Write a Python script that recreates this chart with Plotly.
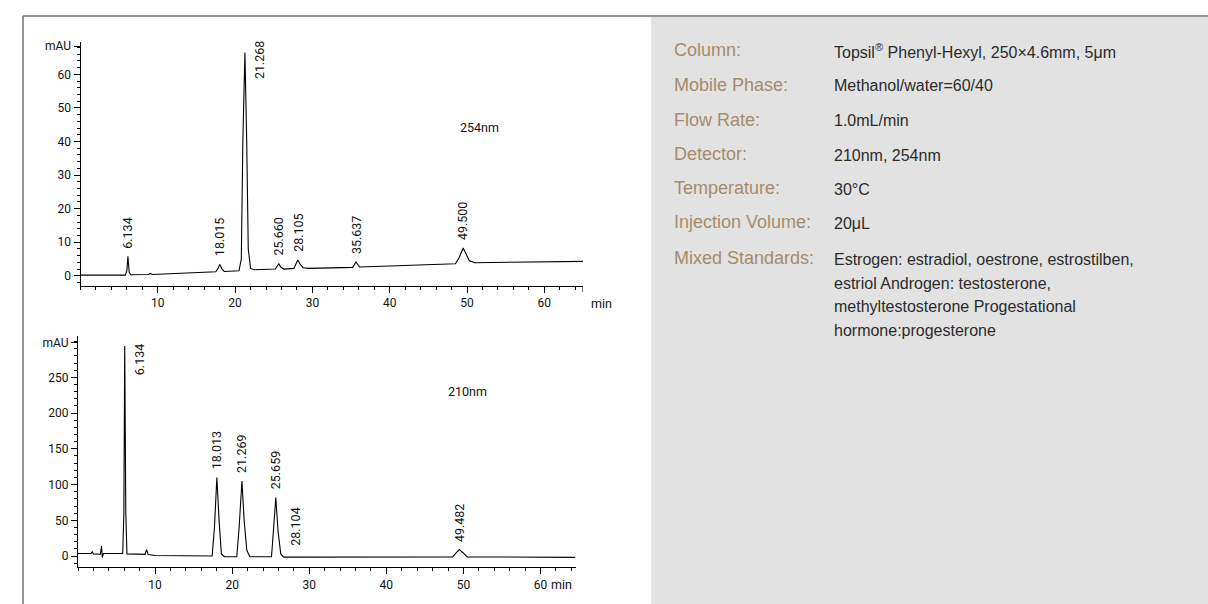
import plotly.graph_objects as go

W, H = 1208, 604

# ---------------- data ----------------
# 254 nm chromatogram: time (min) vs signal (mAU)
TIME_254 = [0, 5.8, 6.0, 6.134, 6.3, 6.5, 8.8, 9.0, 9.3, 17.5, 17.8, 18.015, 18.3, 18.6,
            20.5, 20.8, 21.0, 21.268, 21.5, 21.7, 22.0, 22.5, 25.2, 25.45, 25.66, 25.9, 26.3,
            27.6, 27.9, 28.105, 28.4, 28.8, 29.5, 35.2, 35.637, 36.1, 48.5, 49.0, 49.5,
            49.9, 50.3, 51.0, 65]
SIGNAL_254 = [0.2, 0.2, 1.5, 5.8, 1.0, 0.3, 0.4, 0.7, 0.4, 1.2, 2.2, 3.4, 2.0, 1.3,
              1.5, 5.0, 40.0, 66.5, 40.0, 8.0, 2.2, 1.8, 2.0, 3.0, 3.6, 2.6, 2.0,
              2.2, 3.8, 4.7, 3.5, 2.4, 2.2, 2.5, 4.1, 2.6, 3.6, 5.5, 8.3,
              6.5, 4.5, 3.9, 4.3]
PEAKS_254 = ["6.134", "18.015", "21.268", "25.660", "28.105", "35.637", "49.500"]

# 210 nm chromatogram
TIME_210 = [0, 1.7, 1.85, 2.0, 2.9, 3.05, 3.15, 3.3, 5.8, 5.95, 6.06, 6.2, 6.35,
            8.7, 8.9, 9.1, 10.0, 17.4, 17.7, 18.013, 18.3, 18.6, 19.0, 20.6, 20.9,
            21.269, 21.55, 21.9, 22.3, 25.1, 25.35, 25.659, 25.95, 26.3, 26.7, 28.104,
            30.0, 48.6, 49.1, 49.482, 49.9, 50.5, 64.5]
SIGNAL_210 = [3.5, 3.5, 6.0, 3.0, 2.5, 14.0, -2.0, 3.5, 3.5, 60.0, 294.0, 60.0, 3.0,
              2.4, 9.0, 2.0, 0.8, 0.0, 40.0, 110.0, 50.0, 3.0, -1.0, -1.0, 40.0,
              105.0, 50.0, 8.0, -1.0, -1.0, 35.0, 82.0, 35.0, 3.0, -1.5, -1.5,
              -1.2, -1.2, 5.0, 9.0, 5.0, -1.2, -1.8]
PEAKS_210 = ["6.134", "18.013", "21.269", "25.659", "28.104", "49.482"]

Y_TICKS_254 = [0, 10, 20, 30, 40, 50, 60]
Y_TICKS_210 = [0, 50, 100, 150, 200, 250]
X_TICKS = [10, 20, 30, 40, 50, 60]

INFO_LABELS = ["Column:", "Mobile Phase:", "Flow Rate:", "Detector:", "Temperature:",
               "Injection Volume:", "Mixed Standards:"]
INFO_VALUES = ["Topsil<sup>®</sup> Phenyl-Hexyl, 250×4.6mm, 5μm",
               "Methanol/water=60/40", "1.0mL/min", "210nm, 254nm", "30°C", "20μL",
               "Estrogen: estradiol, oestrone, estrostilben,"]
MIXED_EXTRA_LINES = ["estriol Androgen: testosterone,",
                     "methyltestosterone Progestational",
                     "hormone:progesterone"]

# ---------------- helpers ----------------
def px(x):
    return x / W


def py(y):
    return 1 - y / H


CHART_FONT = "Roboto, 'DejaVu Sans', sans-serif"
INFO_FONT = "'Liberation Sans', Arial, sans-serif"
LABEL_COLOR = "#a58b6c"
VALUE_COLOR = "#2b2b2b"

fig = go.Figure()
fig.add_trace(go.Scatter(x=TIME_254, y=SIGNAL_254, mode="lines",
                         line=dict(color="black", width=1.1), xaxis="x", yaxis="y",
                         hoverinfo="skip", showlegend=False))
fig.add_trace(go.Scatter(x=TIME_210, y=SIGNAL_210, mode="lines",
                         line=dict(color="black", width=1.1), xaxis="x2", yaxis="y2",
                         hoverinfo="skip", showlegend=False))

tickfont = dict(family=CHART_FONT, size=12, color="#111")

common_axis = dict(showline=True, linecolor="black", linewidth=1, showgrid=False,
                   zeroline=False, ticks="outside", tickcolor="black", ticklen=6,
                   tickwidth=1, tickfont=tickfont, fixedrange=True)

top_y_max = 69.7
bot_y_max = 308
fig.update_layout(
    width=W, height=H, margin=dict(l=0, r=0, t=0, b=0),
    paper_bgcolor="white", plot_bgcolor="white",
    xaxis=dict(domain=[px(80.5), px(583)], range=[0, 65], anchor="y",
               tickmode="array", tickvals=X_TICKS,
               ticktext=[str(v) for v in X_TICKS],
               minor=dict(ticks="outside", ticklen=3, tickcolor="black", dtick=2, tick0=0),
               **common_axis),
    yaxis=dict(domain=[py(285), py(40)], range=[-3.06, top_y_max], anchor="x",
               tickmode="array", tickvals=Y_TICKS_254 + [68.4],
               ticktext=[str(v) for v in Y_TICKS_254] + ["mAU"],
               minor=dict(ticks="outside", ticklen=3, tickcolor="black", dtick=2, tick0=0),
               **common_axis),
    xaxis2=dict(domain=[px(78), px(576)], range=[0, 64.6], anchor="y2",
                tickmode="array", tickvals=X_TICKS,
                ticktext=[str(v) for v in X_TICKS],
                minor=dict(ticks="outside", ticklen=3, tickcolor="black", dtick=2, tick0=0),
                **common_axis),
    yaxis2=dict(domain=[py(567), py(335)], range=[-15.5, bot_y_max], anchor="x2",
                tickmode="array", tickvals=Y_TICKS_210 + [299],
                ticktext=[str(v) for v in Y_TICKS_210] + ["mAU"],
                minor=dict(ticks="outside", ticklen=3, tickcolor="black", dtick=10, tick0=0),
                **common_axis),
)

# frame and info panel
fig.add_shape(type="rect", xref="paper", yref="paper", x0=px(651), x1=1, y0=0, y1=py(15),
              fillcolor="#e2e2e2", line=dict(width=0), layer="below")
fig.add_shape(type="line", xref="paper", yref="paper", x0=px(23), x1=1, y0=py(14), y1=py(14),
              line=dict(color="#707070", width=1.5))
fig.add_shape(type="line", xref="paper", yref="paper", x0=px(23), x1=px(23), y0=0, y1=py(14),
              line=dict(color="#707070", width=1.5))
# long end tick on the upper time axis
fig.add_shape(type="line", xref="x", yref="paper", x0=65, x1=65, y0=py(285), y1=py(291),
              line=dict(color="black", width=1))


def apex(times, signal, label):
    rt = float(label)
    idx = [k for k in range(len(times)) if abs(times[k] - rt) <= 0.3]
    i = max(idx, key=lambda k: signal[k])
    return rt, signal[i]


labfont = dict(family=CHART_FONT, size=12.5, color="#111")

# peak labels 254 nm
for lab in PEAKS_254:
    t, s = apex(TIME_254, SIGNAL_254, lab)
    if lab == "21.268":
        fig.add_annotation(x=t, y=s, xref="x", yref="y", text=lab, textangle=-90,
                           showarrow=False, xanchor="left", yanchor="top", xshift=5,
                           yshift=14, font=labfont)
    else:
        fig.add_annotation(x=t, y=s, xref="x", yref="y", text=lab, textangle=-90,
                           showarrow=False, xanchor="center", yanchor="bottom", yshift=6,
                           font=labfont)

# peak labels 210 nm
for lab in PEAKS_210:
    t, s = apex(TIME_210, SIGNAL_210, lab)
    if lab == "6.134":
        fig.add_annotation(x=t, y=s, xref="x2", yref="y2", text=lab, textangle=-90,
                           showarrow=False, xanchor="left", yanchor="top", xshift=5,
                           yshift=4, font=labfont)
    elif lab == "28.104":
        fig.add_annotation(x=t, y=s, xref="x2", yref="y2", text=lab, textangle=-90,
                           showarrow=False, xanchor="center", yanchor="bottom", yshift=9,
                           font=labfont)
    else:
        fig.add_annotation(x=t, y=s, xref="x2", yref="y2", text=lab, textangle=-90,
                           showarrow=False, xanchor="center", yanchor="bottom", yshift=6,
                           font=labfont)

# wavelength labels and axis units
fig.add_annotation(x=px(480), y=py(116), xref="paper", yref="paper", text="254nm",
                   showarrow=False, font=labfont)
fig.add_annotation(x=px(467), y=py(391), xref="paper", yref="paper", text="210nm",
                   showarrow=False, font=labfont)
fig.add_annotation(x=px(601), y=py(302), xref="paper", yref="paper", text="min",
                   showarrow=False, xanchor="center", font=labfont)
fig.add_annotation(x=px(561), y=py(584), xref="paper", yref="paper", text="min",
                   showarrow=False, xanchor="center", yanchor="middle", font=labfont)

# info panel text
row_y = [48, 83, 118, 153, 187, 221, 257]
for lab, val, y in zip(INFO_LABELS, INFO_VALUES, row_y):
    fig.add_annotation(x=px(672), y=py(y), xref="paper", yref="paper", text=lab,
                       showarrow=False, xanchor="left", yanchor="middle",
                       font=dict(family=INFO_FONT, size=18, color=LABEL_COLOR))
    fig.add_annotation(x=px(832), y=py(y + 1), xref="paper", yref="paper", text=val,
                       showarrow=False, xanchor="left", yanchor="middle",
                       font=dict(family=INFO_FONT, size=16, color=VALUE_COLOR))
for k, line in enumerate(MIXED_EXTRA_LINES):
    fig.add_annotation(x=px(832), y=py(282 + 24 * k), xref="paper", yref="paper", text=line,
                       showarrow=False, xanchor="left", yanchor="middle",
                       font=dict(family=INFO_FONT, size=16, color=VALUE_COLOR))

fig.write_html("out.html", config={"displayModeBar": False},
               post_script="document.body.style.margin='0';"
                           "document.body.style.overflow='hidden';")
